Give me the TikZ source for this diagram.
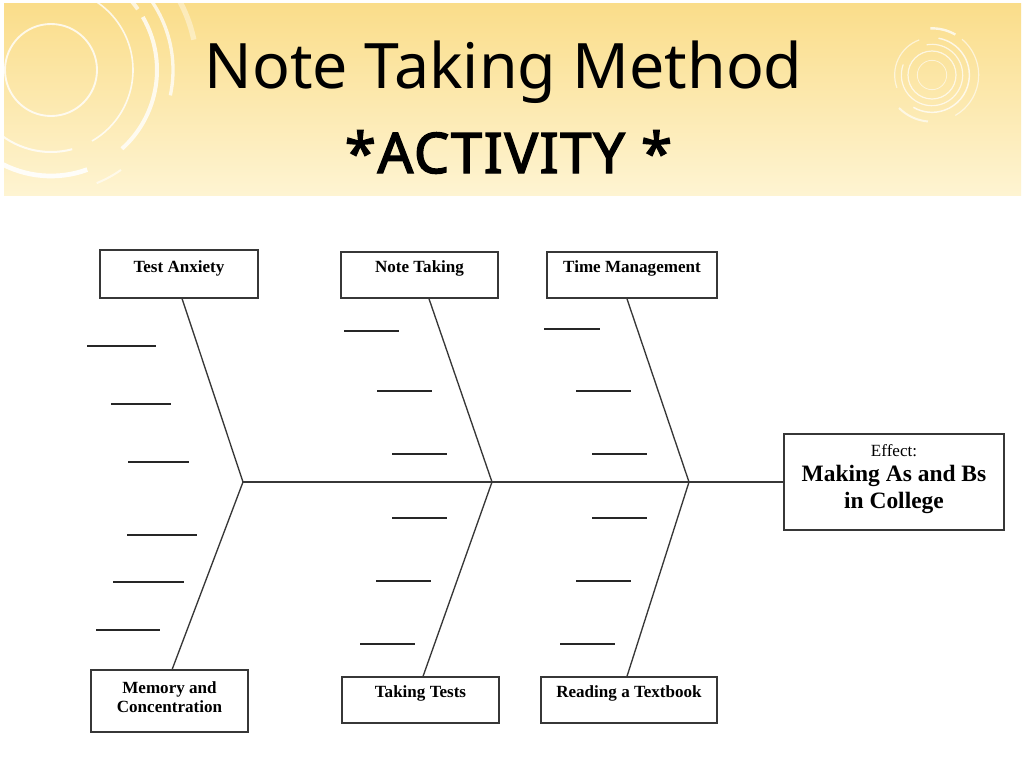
\documentclass[tikz,border=0pt]{standalone}
\usepackage{fontspec}
\setmainfont{Liberation Serif}
\newfontfamily\titlefont{Noto Sans}
\newfontfamily\actfont[FakeBold=2.6,LetterSpace=3]{Noto Sans}
\usetikzlibrary{fit,calc}
\definecolor{bandtop}{RGB}{250,221,138}
\definecolor{bandbot}{RGB}{254,244,210}
\definecolor{ink}{RGB}{55,55,55}
\tikzset{
  box/.style={draw=ink, line width=1pt, fill=white, inner sep=0pt},
  lbl/.style={font=\bfseries\fontsize{12.8pt}{14.5pt}\selectfont, align=center, inner sep=0pt},
  bone/.style={draw=ink, line width=1pt},
  blank/.style={draw=black!85, line width=0.9pt},
  deco/.style={draw=white, line width=1.2pt, opacity=0.8},
}
\begin{document}
\begin{tikzpicture}[x=0.75pt,y=-0.75pt]
\useasboundingbox (0,0) rectangle (1024,768);
\fill[white] (0,0) rectangle (1024,768);
% header band
\begin{scope}
\clip (4,3) rectangle (1021,195);
\shade[top color=bandtop, bottom color=bandbot] (4,3) rectangle (1021,195);
% left decoration
\draw[deco, line width=1.4pt] (51,70) circle[radius=34.5pt];
\draw[deco, line width=1.2pt] (51,70) ++(88:61.5pt) arc[start angle=88, end angle=-60, radius=61.5pt];
\draw[deco, line width=1.5pt] (51,70) ++(-75:61.5pt) arc[start angle=-75, end angle=-180, radius=61.5pt];
\draw[deco, line width=3pt, opacity=0.7] (51,70) ++(62:79.5pt) arc[start angle=62, end angle=35, radius=79.5pt];
\draw[deco, line width=3pt, opacity=0.8] (51,70) ++(30:79.5pt) arc[start angle=30, end angle=-48, radius=79.5pt];
\draw[deco, line width=3.5pt, opacity=0.9] (51,70) ++(-70:79.5pt) arc[start angle=-70, end angle=-120, radius=79.5pt];
\draw[deco, line width=2.5pt, opacity=0.75] (51,70) ++(-125:79.5pt) arc[start angle=-125, end angle=-175, radius=79.5pt];
\draw[deco, line width=2.5pt, opacity=0.75] (51,70) ++(38:91.5pt) arc[start angle=38, end angle=-12, radius=91.5pt];
\draw[deco, line width=1.5pt, opacity=0.6] (51,70) ++(-55:91.5pt) arc[start angle=-55, end angle=-68, radius=91.5pt];
\draw[deco, line width=4pt, opacity=0.4] (51,70) ++(62:109.5pt) arc[start angle=62, end angle=12, radius=109.5pt];
% right decoration
\draw[deco, line width=0.6pt, opacity=0.6] (932,75) circle[radius=11pt];
\draw[deco, line width=0.9pt, opacity=0.7] (932,75) circle[radius=18pt];
\draw[deco, line width=0.9pt, opacity=0.7] (932,75) ++(100:23pt) arc[start angle=100, end angle=-200, radius=23pt];
\draw[deco, line width=1.1pt, opacity=0.75] (932,75) ++(80:28pt) arc[start angle=80, end angle=-120, radius=28pt];
\draw[deco, line width=0.9pt, opacity=0.6] (932,75) ++(200:28pt) arc[start angle=200, end angle=110, radius=28pt];
\draw[deco, line width=1.8pt, opacity=0.75] (932,75) ++(92:35pt) arc[start angle=92, end angle=60, radius=35pt];
\draw[deco, line width=0.9pt, opacity=0.6] (932,75) ++(50:35pt) arc[start angle=50, end angle=-60, radius=35pt];
\draw[deco, line width=1.5pt, opacity=0.65] (932,75) ++(-95:35pt) arc[start angle=-95, end angle=-135, radius=35pt];
\end{scope}
% titles
\node[font=\titlefont\fontsize{47pt}{50pt}\selectfont, anchor=base, inner sep=0pt] (title) at (503.5,88) {Note Taking Method};
\node[font=\actfont\fontsize{42pt}{46pt}\selectfont, anchor=base, inner sep=0pt] (act) at (508.5,173) {*ACTIVITY *};
% boxes
\node[box, fit={(100,250)(258,298)}] (ta) {};
\node[box, fit={(341,252)(498,298)}] (nt) {};
\node[box, fit={(547,252)(717,298)}] (tm) {};
\node[box, fit={(91,670)(248,732)}] (mc) {};
\node[box, fit={(342,677)(499,723)}] (tt) {};
\node[box, fit={(541,677)(717,723)}] (rt) {};
\node[box, fit={(784,434)(1004,530)}] (eff) {};
% labels
\node[lbl] (taL) at (179,268.5) {Test Anxiety};
\node[lbl] (ntL) at (419.5,268.5) {Note Taking};
\node[lbl] (tmL) at (632,268.5) {Time Management};
\node[lbl, font=\bfseries\fontsize{12.8pt}{14.4pt}\selectfont] (mcL) at (169.5,697) {Memory and\\Concentration};
\node[lbl] (ttL) at (420.5,693.5) {Taking Tests};
\node[lbl] (rtL) at (629,693.5) {Reading a Textbook};
\node[font=\fontsize{12.8pt}{14pt}\selectfont, inner sep=0pt] (effA) at (894,451) {Effect:};
\node[lbl, font=\bfseries\fontsize{17.6pt}{20.3pt}\selectfont] (effB) at (894,489.5) {Making As and Bs\\in College};
% spine
\coordinate (j1) at (243,482);
\coordinate (j2) at (492,482);
\coordinate (j3) at (689,482);
\draw[bone] (j1) -- (eff.west);
\draw[bone] ([xshift=2.3pt]ta.south) -- (j1);
\draw[bone] ([xshift=7.1pt]nt.south) -- (j2);
\draw[bone] ([xshift=-3.8pt]tm.south) -- (j3);
\draw[bone] (j1) -- ([xshift=2pt]mc.north);
\draw[bone] (j2) -- ([xshift=1.9pt]tt.north);
\draw[bone] (j3) -- ([xshift=-1.5pt]rt.north);
% blank lines
\foreach \a/\b/\y in {87/156/346, 111/171/404, 128/189/462,
  344/399/331, 377/432/391, 392/447/454,
  544/600/329, 576/631/391, 592/647/454,
  127/197/535, 113/184/582, 96/160/630,
  392/447/518, 376/431/581, 360/415/644,
  592/647/518, 576/631/581, 560/615/644}
  \draw[blank] (\a,\y) -- (\b,\y);
\end{tikzpicture}
\end{document}
